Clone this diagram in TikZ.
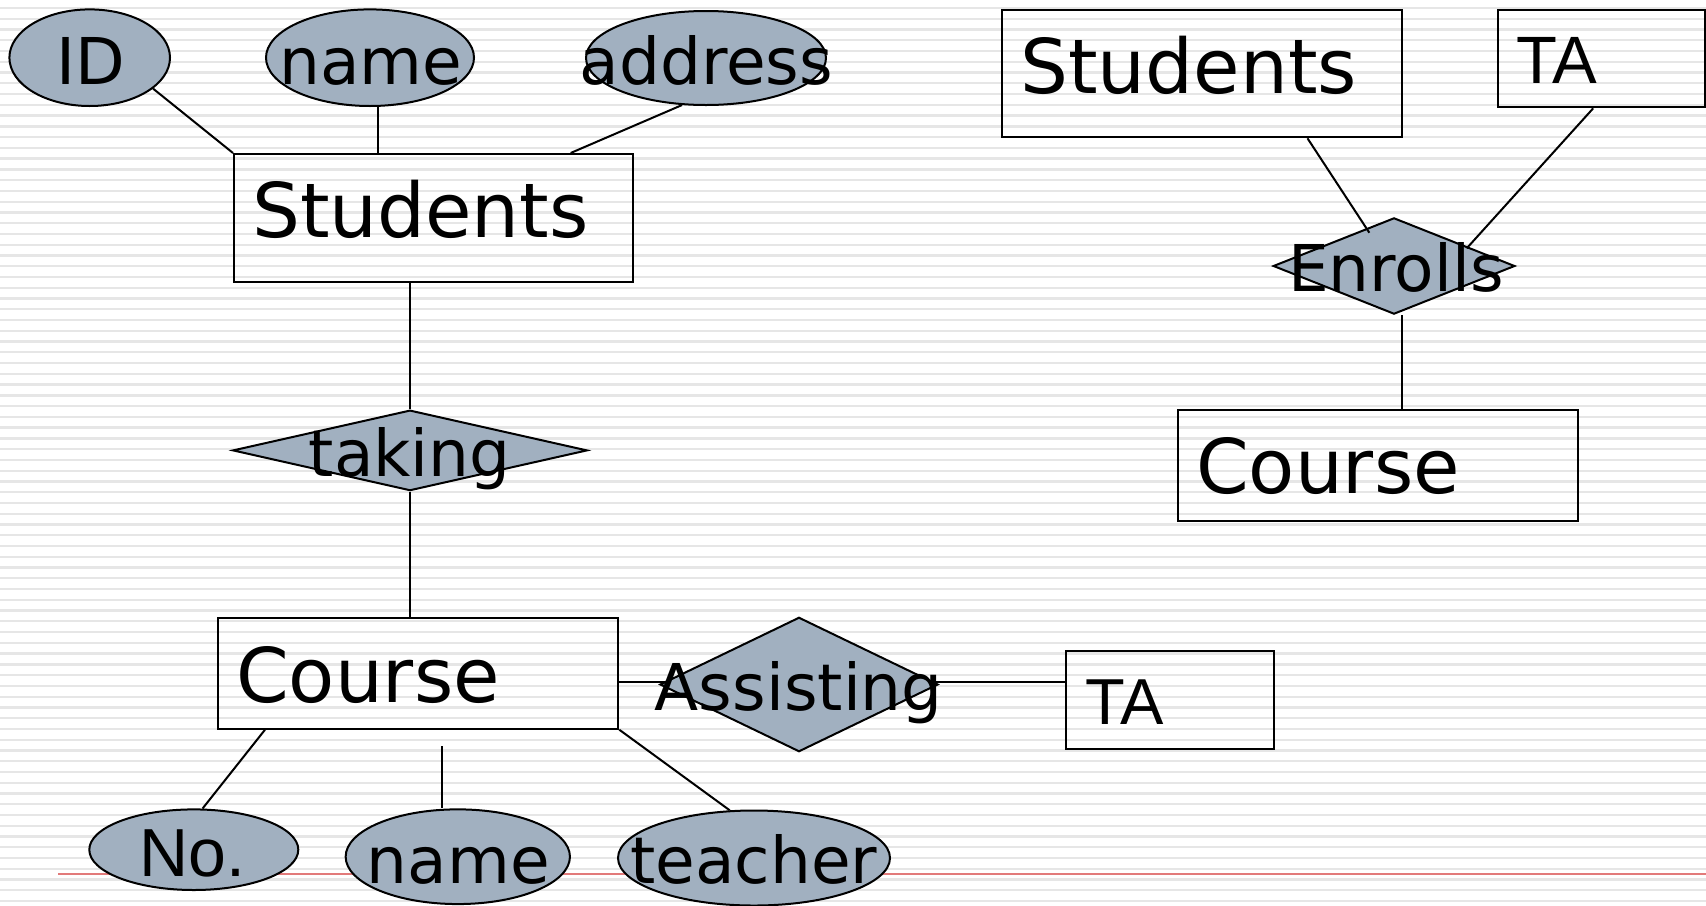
\documentclass[tikz,border=0pt]{standalone}
\usepackage{fontspec}
\setmainfont{DejaVu Sans}
\newfontfamily\arialfont{Liberation Sans}
\usetikzlibrary{shapes.geometric,calc}

\definecolor{attrfill}{RGB}{161,176,192}
\definecolor{stripegray}{RGB}{230,230,230}
\definecolor{marginred}{RGB}{226,122,122}

\begin{document}
\begin{tikzpicture}[x=0.5pt,y=-0.5pt,
  bgstripe/.style={draw=stripegray,line width=1.15pt},
  entity/.style={rectangle,draw=black,line width=1pt,inner sep=0pt},
  attr/.style={ellipse,draw=black,line width=1pt,fill=attrfill,inner sep=0pt},
  rel/.style={diamond,draw=black,line width=1pt,fill=attrfill,inner sep=0pt},
  link/.style={draw=black,line width=1pt},
  bigtext/.style={font=\fontsize{37.75pt}{40pt}\selectfont,inner sep=0pt,anchor=base west},
  midtext/.style={font=\fontsize{32.25pt}{34pt}\selectfont,inner sep=0pt,anchor=base},
  tatext/.style={font=\arialfont\fontsize{33.5pt}{36pt}\selectfont,inner sep=0pt,anchor=base west}]

% page area and ruled background
\useasboundingbox (0,0) rectangle (1706,905);
\fill[white] (0,0) rectangle (1706,905);
\foreach \k in {0,...,83}
  \draw[bgstripe] (0,{8+10.76*\k}) -- (1706,{8+10.76*\k});
\draw[marginred,line width=1pt] (58,874) -- (1706,874);

% ---------- left diagram ----------
\node[entity,minimum width=199.5pt,minimum height=64pt] (stud) at (433.5,218) {};
\node[entity,minimum width=200.3pt,minimum height=55.5pt] (course) at (418,673.2) {};
\node[entity,minimum width=104pt,minimum height=48.95pt] (ta) at (1170,699.55) {};

% the Course - Assisting - TA line runs behind the diamond
\draw[link] ([yshift=-4.25pt]course.east) -- ([yshift=-4.25pt]course.east -| ta.west);

\node[attr,minimum width=80.3pt,minimum height=48.3pt] (id) at (89.7,57.7) {};
\node[attr,minimum width=104pt,minimum height=48.3pt] (nameA) at (370,57.7) {};
\node[attr,minimum width=120pt,minimum height=47pt] (addr) at (706,58) {};
\node[rel,minimum width=177.3pt,minimum height=40.25pt] (taking) at (410,450.4) {};
\node[rel,minimum width=139pt,minimum height=67.2pt] (assist) at (799,684.5) {};
\node[attr,minimum width=104.5pt,minimum height=40.3pt] (num) at (193.8,849.7) {};
\node[attr,minimum width=112.15pt,minimum height=47.35pt] (nameB) at (457.8,856.7) {};
\node[attr,minimum width=136pt,minimum height=47.5pt] (teach) at (754,858) {};

% connectors of the left diagram
\draw[link] (id.-26) -- (stud.north west);
\draw[link] ([xshift=3.85pt]nameA.south) -- ([xshift=3.85pt]nameA.south |- stud.north);
\draw[link] (addr.-117) -- ($(stud.north west)!0.842!(stud.north east)$);
\draw[link] (taking.north) -- (taking.north |- stud.south);
\draw[link] (taking.south) -- (taking.south |- course.north);
\draw[link] ($(course.south west)!0.12!(course.south east)$) -- (num.78);
\coordinate (nameBtop) at (442,746);
\draw[link] (nameBtop) -- (nameBtop |- nameB.north);
\draw[link] (course.south east) -- (teach.117);

% ---------- right diagram ----------
\node[entity,minimum width=200.3pt,minimum height=63.65pt] (stud2) at (1202,73.65) {};
\node[entity,minimum width=103.65pt,minimum height=48.65pt] (ta2) at (1601.35,58.65) {};
\node[entity,minimum width=200.3pt,minimum height=55.35pt] (course2) at (1378,465.35) {};
\node[rel,minimum width=120.85pt,minimum height=48.15pt] (enr) at (1394,266) {};

\coordinate (enrA) at (1369.3,232.7);
\coordinate (enrB) at (1466.7,248.3);
\draw[link] ($(stud2.south west)!0.762!(stud2.south east)$) -- (enrA);
\draw[link] ($(ta2.south west)!0.461!(ta2.south east)$) -- (enrB);
\draw[link] ([xshift=3.85pt]enr.south) -- ([xshift=3.85pt]enr.south |- course2.north);

% ---------- labels ----------
\node[midtext] (tID) at (90.5,84) {ID};
\node[midtext] (tnameA) at (370.8,84) {name};
\node[midtext] (taddr) at (706.4,84) {address};
\node[bigtext] (tstud) at (251.7,237) {Students};
\node[midtext] (ttaking) at (409.7,476.5) {taking};
\node[bigtext] (tcourse) at (235.8,702) {Course};
\node[midtext] (tassist) at (798.8,710.7) {Assisting};
\node[tatext,font=\arialfont\fontsize{32.5pt}{35pt}\selectfont] (tta) at (1085.5,724.6) {TA};
\node[midtext,font=\arialfont\fontsize{34pt}{36pt}\selectfont] (tnum) at (192.5,876.7) {No.};
\node[midtext] (tnameB) at (458.3,883.3) {name};
\node[midtext] (tteach) at (753.8,883.5) {teacher};

\node[bigtext] (tstud2) at (1020,93) {Students};
\node[tatext] (tta2) at (1515.8,83.3) {TA};
\node[midtext] (tenr) at (1395.8,291.7) {Enrolls};
\node[bigtext] (tcourse2) at (1195.8,493) {Course};
\end{tikzpicture}
\end{document}
